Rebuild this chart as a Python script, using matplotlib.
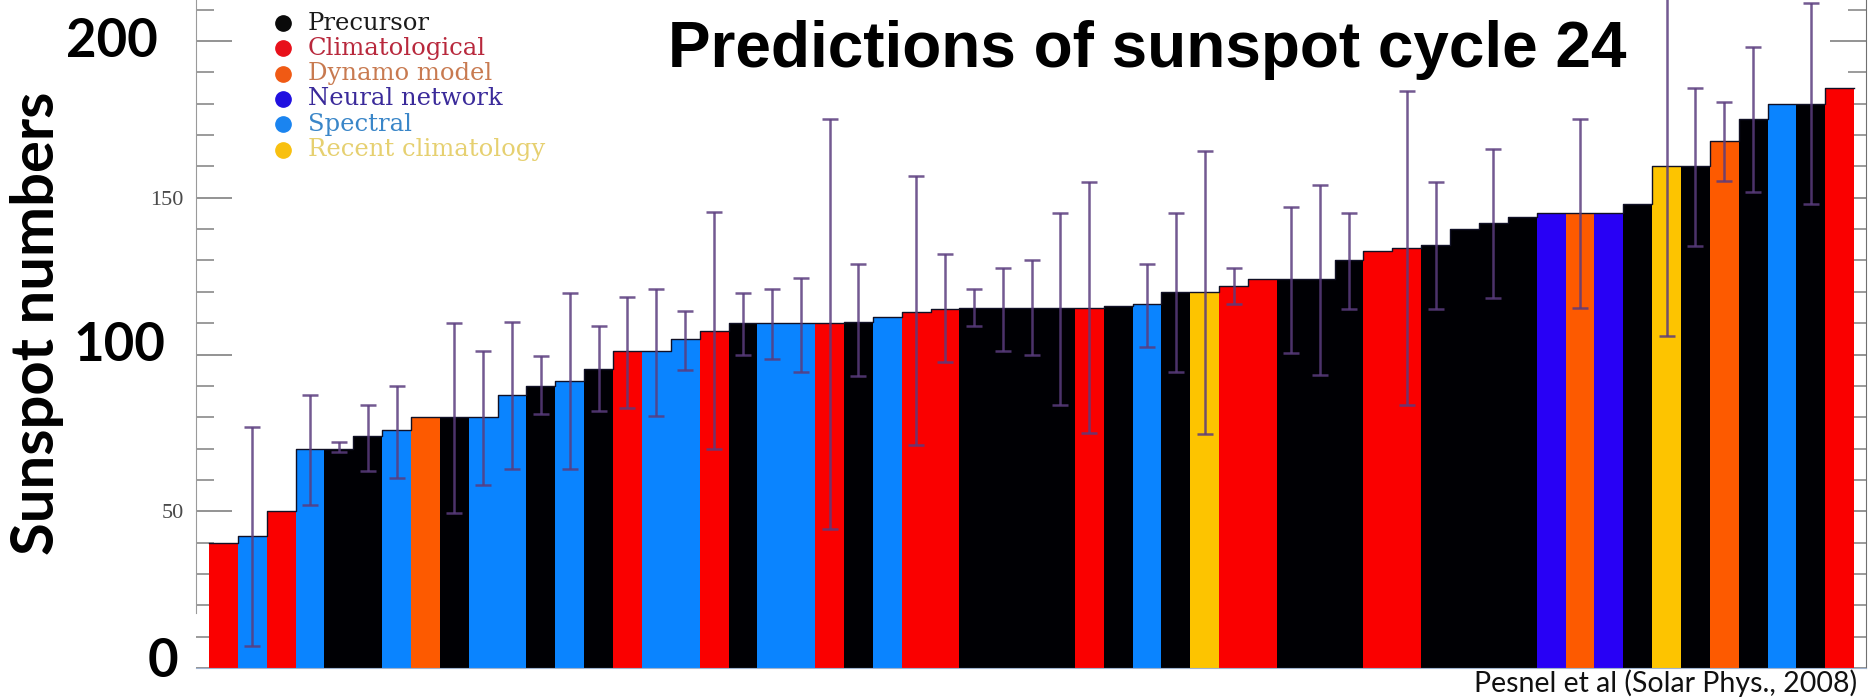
#Import modules
import numpy as np
import matplotlib
matplotlib.use('Agg')
import matplotlib.pyplot as pp
from matplotlib.lines import Line2D
from matplotlib.ticker import MultipleLocator

#Method behind each prediction, bars sorted by predicted maximum
methods = ['C', 'S', 'C', 'S', 'P', 'P', 'S', 'D', 'P', 'S',
           'S', 'P', 'S', 'P', 'C', 'S', 'S', 'C', 'P', 'S',
           'S', 'C', 'P', 'S', 'C', 'C', 'P', 'P', 'P', 'P',
           'C', 'P', 'S', 'P', 'R', 'C', 'C', 'P', 'P', 'P',
           'C', 'C', 'P', 'P', 'P', 'P', 'N', 'D', 'N', 'P',
           'R', 'P', 'D', 'P', 'S', 'P', 'C']
#Predicted maximum sunspot number
predicted = [40, 42, 50, 70, 70, 74, 76, 80, 80, 80,
             87, 90, 91.5, 95.5, 101, 101, 105, 107.5, 110, 110,
             110, 110, 110.5, 112, 113.5, 114.5, 115, 115, 115, 115,
             115, 115.5, 116, 120, 120, 122, 124, 124, 124, 130,
             133, 134, 135, 140, 142, 144, 145, 145, 145, 148,
             160, 160, 168, 175, 180, 180, 185]
#Lower and upper ends of the quoted ranges (nan where none was given)
nan = np.nan
rangeLow = [nan, 7, nan, 52, 69, 63, 60.5, nan, 49.5, 58.5,
            63.5, 81, 63.5, 82, 83, 80.5, 95, 70, 100, 98.5,
            94.5, 44.5, 93, nan, 71, 97.5, 109, 101, 100, 84,
            75, nan, 102.5, 94.5, 74.5, 116, nan, 100.5, 93.5, 114.5,
            nan, 84, 114.5, nan, 118, nan, nan, 115, nan, nan,
            106, 134.5, 155.5, 152, nan, 148, nan]
rangeHigh = [nan, 77, nan, 87, 72, 84, 90, nan, 110, 101,
             110.5, 99.5, 119.5, 109, 118.5, 121, 114, 145.5, 119.5, 121,
             124.5, 175, 129, nan, 157, 132, 121, 127.5, 130, 145,
             155, nan, 129, 145, 165, 127.5, nan, 147, 154, 145,
             nan, 184, 155, nan, 165.5, nan, nan, 175, nan, nan,
             216, 185, 180.5, 198, nan, 212, nan]

#Legend entries: key, label, bar colour, dot colour, label colour
legendKeys = ['P', 'C', 'D', 'N', 'S', 'R']
legendLabels = ['Precursor', 'Climatological', 'Dynamo model', 'Neural network', 'Spectral', 'Recent climatology']
barColours = {'P': '#000004', 'C': '#fa0000', 'D': '#fd5a00', 'N': '#2800f5', 'S': '#0a84ff', 'R': '#fdc400'}
dotColours = {'P': '#0a0a0a', 'C': '#e8101a', 'D': '#f05a14', 'N': '#2010e0', 'S': '#1a84f0', 'R': '#f8c010'}
textColours = {'P': '#1a1a1a', 'C': '#b8283c', 'D': '#c87a50', 'N': '#3a2a9a', 'S': '#3a86c8', 'R': '#e6d070'}

W, H = 1874, 698
fig = pp.figure(figsize=(W / 100, H / 100), dpi=100)
ax = fig.add_axes([196 / W, 30 / H, 1670 / W, 668 / H])

pred = np.array(predicted, dtype=float)
low = np.array(rangeLow)
high = np.array(rangeHigh)
x = np.arange(len(pred))

#Bars, coloured by method
ax.bar(x, pred, width=1.0, color=[barColours[m] for m in methods], linewidth=0, zorder=2)
#Thin outline along the tops of the bars
xs = np.r_[x - 0.5, x[-1] + 0.5]
ys = np.r_[pred, pred[-1]]
ax.step(xs, ys, where='post', color='#101025', lw=1.0, zorder=2.5)

#Error bars for the predictions that have a range
has = ~np.isnan(low)
ax.errorbar(x[has], pred[has], yerr=[pred[has] - low[has], high[has] - pred[has]],
            fmt='none', ecolor='#5a3c7e', elinewidth=1.8, capsize=6, capthick=1.8,
            alpha=0.85, zorder=3)

#Axis limits and ticks
ax.set_xlim(-0.95, len(pred) - 0.09)
ax.set_ylim(0, 213.1)
ax.set_xticks([])
ax.yaxis.set_minor_locator(MultipleLocator(10))
ax.set_yticks([0, 50, 100, 150, 200])
ax.set_yticklabels(['', '50', '', '150', ''], family='Liberation Serif', fontsize=16, color='#4a4a4a')
ax.tick_params(axis='y', which='major', direction='in', length=26, width=1.3, color='#8a8a8a', pad=9, right=True)
ax.tick_params(axis='y', which='minor', direction='in', length=13, width=1.2, color='#8a8a8a', right=True)
ax.spines['top'].set_visible(False)
ax.spines['left'].set_color('#9a9a9a')
ax.spines['left'].set_bounds(17.5, 213.1)
ax.spines['right'].set_color('#707070')
ax.spines['bottom'].set_color('#9fb3cf')

#Bold axis labels
yt = ax.get_yaxis_transform()
ax.text(-0.0228, 200, '200', transform=yt, ha='right', va='center', family='Lato', weight='bold', fontsize=38, clip_on=False)
ax.text(-0.0186, 103, '100', transform=yt, ha='right', va='center', family='Lato', weight='bold', fontsize=38, clip_on=False)
ax.text(-0.0108, 2, '0', transform=yt, ha='right', va='center', family='Lato', weight='bold', fontsize=38, clip_on=False)
fig.text(37 / W, 1 - 323 / H, 'Sunspot numbers', rotation=90, ha='center', va='center',
         family='Lato', weight='bold', fontsize=43)

#Title
fig.text(1147 / W, 1 - 67 / H, 'Predictions of sunspot cycle 24', ha='center', va='baseline',
         family='Liberation Sans', weight='bold', fontsize=46)

#Legend drawn as dots and coloured labels
for i in range(len(legendKeys)):
    k = legendKeys[i]
    yRow = 1 - (23 + 25.3 * i) / H
    fig.add_artist(Line2D([283 / W], [yRow], marker='o', markersize=11, color=dotColours[k],
                          linestyle='none', transform=fig.transFigure))
    fig.text(308 / W, yRow, legendLabels[i], ha='left', va='center', family='DejaVu Serif',
             fontsize=17.5, color=textColours[k])

#Source
fig.text(1857 / W, 6 / H, 'Pesnel et al (Solar Phys., 2008)', ha='right', va='baseline',
         family='Lato', fontsize=20.5, color='#111111')

fig.savefig('out.png', dpi=100)
pp.close()
